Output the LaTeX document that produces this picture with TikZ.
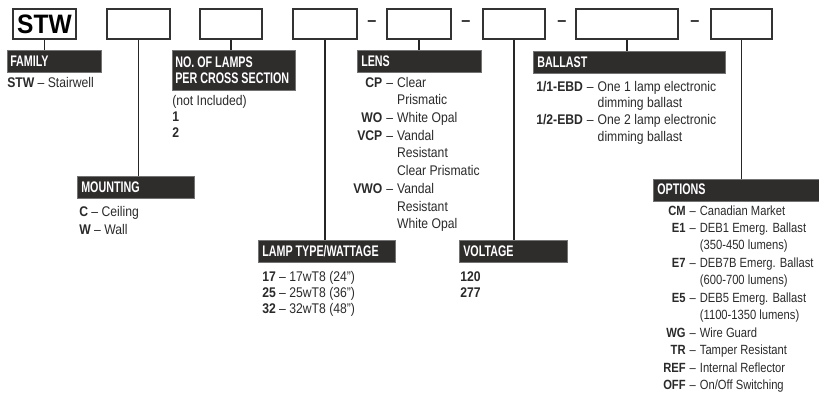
\documentclass[tikz,border=0pt]{standalone}
\usepackage{fontspec}
\setmainfont{Liberation Sans}[FakeStretch=0.87]
\newfontfamily\barfont{Liberation Sans}[FakeStretch=0.70]
\newfontfamily\boxfont{Liberation Sans}[FakeStretch=0.92]
\newfontfamily\optfont{Liberation Sans}[FakeStretch=0.84, Ligatures=TeX]
\usepackage{tikz}
\usetikzlibrary{positioning}
\definecolor{barfill}{HTML}{2F2C2C}
\definecolor{itemtext}{HTML}{2A2A2A}
\newcommand\px{0.75pt}
\tikzset{
  code-box/.style={draw=black!80, fill=white, line width=1.1pt, inner sep=0pt,
    minimum height=30*\px},
  code-bar/.style={draw=black!55, fill=barfill, line width=0.4pt, anchor=north west,
    inner sep=0pt, minimum height=22*\px},
  code-bar-text/.style={font=\barfont\bfseries\fontsize{11.5}{12}\selectfont, text=white,
    anchor=west, inner sep=0pt, align=left},
  code-item/.style={font=\fontsize{10.5}{13.2}\selectfont, text=itemtext, anchor=base west,
    inner sep=0pt},
  code-dash/.style={font=\bfseries\fontsize{14}{14}\selectfont, text=black!80, inner sep=0pt},
  code-link/.style={draw=black!85, line width=1.3pt}
}

\begin{document}
\begin{tikzpicture}[x=0.75pt, y=-0.75pt]
  \useasboundingbox (0,0) rectangle (819,396);

  % Catalogue number boxes
  \node[code-box, minimum width=63*\px] (stwbox) at (44.5,24) {\boxfont\bfseries\fontsize{20}{20}\selectfont STW};
  \node[code-box, minimum width=63*\px] (mntbox) at (138.5,24) {};
  \node[code-box, minimum width=62*\px] (lampsbox) at (231,24) {};
  \node[code-box, minimum width=64*\px] (typebox) at (325,24) {};
  \node[code-box, minimum width=64*\px] (lensbox) at (419,24) {};
  \node[code-box, minimum width=62*\px] (voltbox) at (514,24) {};
  \node[code-box, minimum width=102*\px] (ballastbox) at (627,24) {};
  \node[code-box, minimum width=61*\px] (optbox) at (741.5,24) {};

  % Dashes between boxes
  \node[code-dash] (dash1) at (372,24) {--};
  \node[code-dash] (dash2) at (466,24) {--};
  \node[code-dash] (dash3) at (562,24) {--};
  \node[code-dash] (dash4) at (695,24) {--};

  % Family
  \node[code-bar, minimum width=94*\px] (family) at (7,50) {};
  \node[code-bar-text] at (10,61) {FAMILY};
  \node[code-item] (familyitems) at (7,87) {\textbf{STW} -- Stairwell};
  \draw[code-link] (stwbox.south) -- (stwbox.south |- family.north);

  % Mounting
  \node[code-bar, minimum width=117*\px] (mounting) at (77,176) {};
  \node[code-bar-text] at (81,187) {MOUNTING};
  \node[code-item, font=\fontsize{10.5}{13.5}\selectfont] (mountingitems) at (79,216)
    {\begin{tabular}[t]{@{}l@{}}\textbf{C} -- Ceiling\\ \textbf{W} -- Wall\end{tabular}};
  \draw[code-link] (mntbox.south) -- (mntbox.south |- mounting.north);

  % Number of lamps
  \node[code-bar, minimum width=123*\px, minimum height=40*\px] (lamps) at (172,50) {};
  \node[code-bar-text] at (175,70) {NO. OF LAMPS\\PER CROSS SECTION};
  \node[code-item, font=\fontsize{10.5}{12}\selectfont] (lampsitems) at (172,105)
    {\begin{tabular}[t]{@{}l@{}}(not Included)\\ \textbf{1}\\ \textbf{2}\end{tabular}};
  \draw[code-link] (lampsbox.south) -- (lampsbox.south |- lamps.north);

  % Lamp type / wattage
  \node[code-bar, minimum width=137*\px] (lamptype) at (258,240) {};
  \node[code-bar-text] at (262,251) {LAMP TYPE/WATTAGE};
  \node[code-item, font=\fontsize{10.5}{12}\selectfont] (lamptypeitems) at (262,281)
    {\begin{tabular}[t]{@{}l@{}}\textbf{17} -- 17wT8 (24")\\ \textbf{25} -- 25wT8 (36")\\
     \textbf{32} -- 32wT8 (48")\end{tabular}};
  \draw[code-link] (typebox.south) -- (typebox.south |- lamptype.north);

  % Lens
  \node[code-bar, minimum width=124*\px] (lens) at (357,50) {};
  \node[code-bar-text] at (361,61) {LENS};
  \node[code-item, font=\fontsize{10.5}{13.3}\selectfont] (lensitems) at (353,87)
    {\begin{tabular}[t]{@{}r@{\hspace{3pt}}c@{\hspace{3pt}}l@{}}
     \textbf{CP} & -- & Clear\\ & & Prismatic\\
     \textbf{WO} & -- & White Opal\\
     \textbf{VCP} & -- & Vandal\\ & & Resistant\\ & & Clear Prismatic\\
     \textbf{VWO} & -- & Vandal\\ & & Resistant\\ & & White Opal\end{tabular}};
  \draw[code-link] (lensbox.south) -- (lensbox.south |- lens.north);

  % Voltage
  \node[code-bar, minimum width=108*\px] (voltage) at (459,240) {};
  \node[code-bar-text] at (463,251) {VOLTAGE};
  \node[code-item, font=\fontsize{10.5}{12}\selectfont] (voltageitems) at (460,281)
    {\begin{tabular}[t]{@{}l@{}}\textbf{120}\\ \textbf{277}\end{tabular}};
  \draw[code-link] (voltbox.south) -- (voltbox.south |- voltage.north);

  % Ballast
  \node[code-bar, minimum width=192*\px] (ballast) at (533,51) {};
  \node[code-bar-text] at (537,62) {BALLAST};
  \node[code-item, font=\fontsize{10.5}{12.5}\selectfont] (ballastitems) at (536,91)
    {\begin{tabular}[t]{@{}l@{\hspace{3pt}}c@{\hspace{3pt}}l@{}}
     \textbf{1/1-EBD} & -- & One 1 lamp electronic\\ & & dimming ballast\\
     \textbf{1/2-EBD} & -- & One 2 lamp electronic\\ & & dimming ballast\end{tabular}};
  \draw[code-link] (ballastbox.south) -- (ballastbox.south |- ballast.north);

  % Options
  \node[code-bar, minimum width=170*\px] (options) at (653,179) {};
  \node[code-bar-text] at (657,189.5) {OPTIONS};
  \node[code-item, font=\optfont\fontsize{10}{13.1}\selectfont] (optionsitems) at (663,215)
    {\begin{tabular}[t]{@{}r@{\hspace{3pt}}c@{\hspace{3pt}}l@{}}
     \textbf{CM} & -- & Canadian Market\\
     \textbf{E1} & -- & DEB1 Emerg. Ballast\\ & & (350-450 lumens)\\
     \textbf{E7} & -- & DEB7B Emerg. Ballast\\ & & (600-700 lumens)\\
     \textbf{E5} & -- & DEB5 Emerg. Ballast\\ & & (1100-1350 lumens)\\
     \textbf{WG} & -- & Wire Guard\\
     \textbf{TR} & -- & Tamper Resistant\\
     \textbf{REF} & -- & Internal Reflector\\
     \textbf{OFF} & -- & On/Off Switching\end{tabular}};
  \draw[code-link] (optbox.south) -- (optbox.south |- options.north);
\end{tikzpicture}
\end{document}
